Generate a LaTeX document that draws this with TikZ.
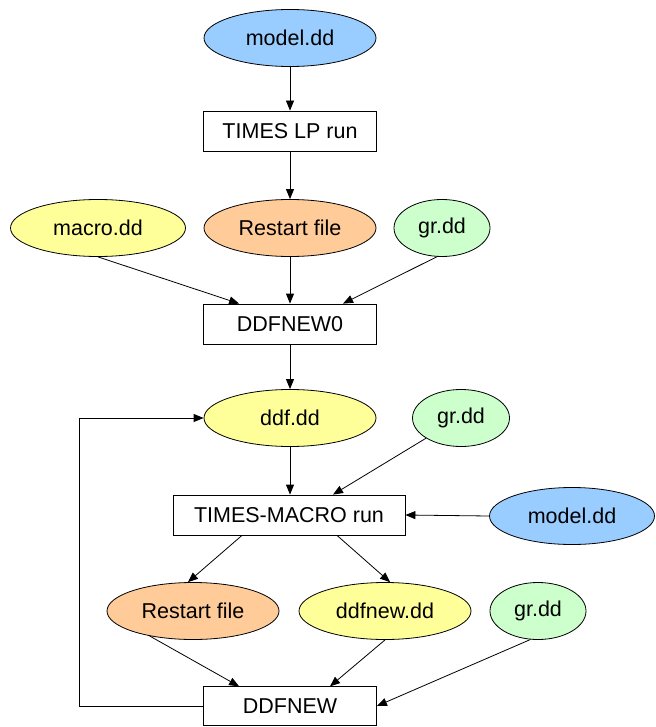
\documentclass[tikz,border=0pt]{standalone}
\usepackage{fontspec}
\setmainfont{Liberation Sans}
\usetikzlibrary{shapes.geometric,arrows.meta}
\definecolor{cyel}{HTML}{FFFF99}
\definecolor{corg}{HTML}{FFCC99}
\definecolor{cgrn}{HTML}{CCFFCC}
\definecolor{cblu}{HTML}{99CCFF}
\begin{document}
\begin{tikzpicture}[x=1pt,y=-1pt,
  font=\fontsize{21.5}{24}\selectfont,
  ell/.style={ellipse,draw,line width=0.8pt,inner sep=0pt,minimum width=172pt,minimum height=57pt},
  sml/.style={ellipse,draw,line width=0.8pt,inner sep=0pt,minimum width=96pt,minimum height=57pt,fill=cgrn},
  box/.style={rectangle,draw,line width=0.8pt,inner sep=0pt,minimum width=173pt,minimum height=40pt},
  arr/.style={draw,line width=0.8pt,-{Triangle[length=10pt,width=8pt]}}]
\useasboundingbox (0,0) rectangle (655,727);
\node[ell,fill=cblu] (m1) at (290,38) {model.dd};
\node[box] (lp) at (290,131) {TIMES LP run};
\node[ell,fill=cyel,minimum width=175pt] (mac) at (98,228) {macro.dd};
\node[ell,fill=corg] (rs1) at (290,228) {Restart file};
\node[sml] (g1) at (442,228) {gr.dd};
\node[box] (d0) at (290,324) {DDFNEW0};
\node[ell,fill=cyel] (ddf) at (290,418) {ddf.dd};
\node[sml,minimum width=97pt] (g2) at (461,418) {gr.dd};
\node[box,minimum width=232pt] (tm) at (289,515) {TIMES-MACRO run};
\node[ell,fill=cblu,minimum width=165pt] (m2) at (572,516) {model.dd};
\node[ell,fill=corg] (rs2) at (193,611) {Restart file};
\node[ell,fill=cyel] (dn) at (385,611) {ddfnew.dd};
\node[sml] (g3) at (538,611) {gr.dd};
\node[box,minimum height=38.5pt] (d1) at (290,706) {DDFNEW};
\coordinate (c1) at (79,706);
\coordinate (c2) at (79,418);

\draw[arr] (m1) -- (lp);
\draw[arr] (lp) -- (rs1);
\draw[arr] (mac.south) -- ([xshift=36pt]d0.north west);
\draw[arr] (rs1) -- (d0);
\draw[arr] (g1.-100) -- ([xshift=53pt]d0.north);
\draw[arr] (d0) -- (ddf);
\draw[arr] (ddf) -- ([xshift=1pt]tm.north);
\draw[arr] (g2.-150) -- ([xshift=44pt]tm.north);
\draw[arr] (m2.west) -- (tm.east);
\draw[arr] ([xshift=-47pt]tm.south) -- (rs2.100);
\draw[arr] ([xshift=48pt]tm.south) -- (dn.80);
\draw[arr] (rs2.-150) -- ([xshift=36pt]d1.north west);
\draw[arr] (dn.south) -- ([xshift=40pt]d1.north);
\draw[arr] (g3.-105) -- (d1.east);
\draw[arr] (d1.west) -- (c1) -- (c2) -- (ddf.west);
\end{tikzpicture}
\end{document}
